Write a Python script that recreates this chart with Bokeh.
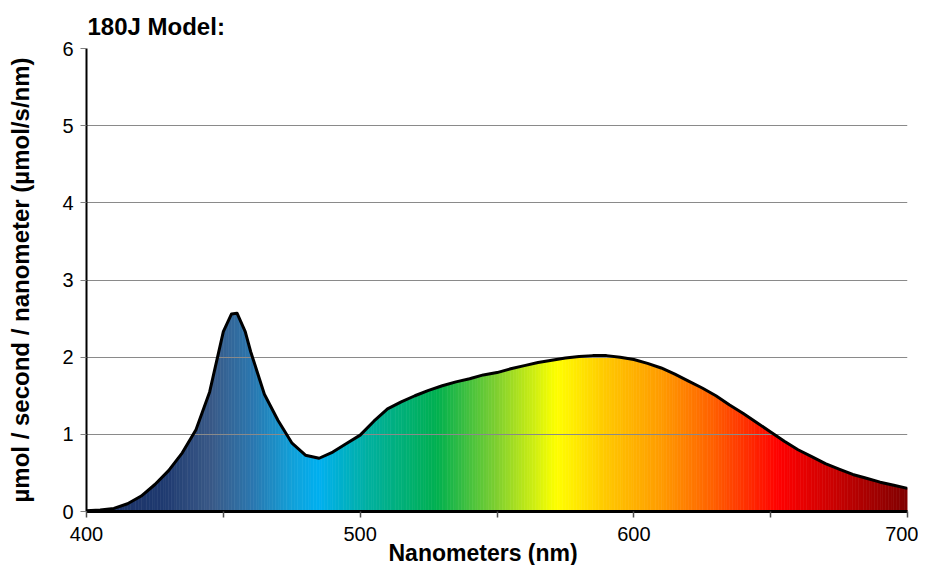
import numpy as np
from bokeh.plotting import figure
from bokeh.models import Range1d, FixedTicker, Title
from bokeh.embed import file_html
from bokeh.resources import INLINE

# ---- data ----
wavelength = [400, 405, 410, 415, 420, 425, 430, 435, 440, 445, 450, 453, 455, 458,
              460, 465, 470, 475, 480, 485, 490, 495, 500, 505, 510, 515, 520, 525,
              530, 535, 540, 545, 550, 555, 560, 565, 570, 575, 580, 585, 590, 595,
              600, 605, 610, 615, 620, 625, 630, 635, 640, 645, 650, 655, 660, 665,
              670, 675, 680, 685, 690, 695, 700]
photon_flux = [0.01, 0.02, 0.04, 0.10, 0.20, 0.35, 0.53, 0.76, 1.06, 1.55, 2.33, 2.56, 2.57, 2.33,
               2.07, 1.52, 1.18, 0.89, 0.73, 0.69, 0.77, 0.88, 0.99, 1.17, 1.33, 1.42, 1.50, 1.57,
               1.63, 1.68, 1.72, 1.77, 1.80, 1.85, 1.89, 1.93, 1.96, 1.99, 2.01, 2.02, 2.02, 2.00,
               1.97, 1.92, 1.86, 1.78, 1.69, 1.60, 1.50, 1.38, 1.27, 1.15, 1.03, 0.91, 0.80, 0.71,
               0.62, 0.55, 0.48, 0.43, 0.38, 0.34, 0.30]

x_ticks = [400, 450, 500, 550, 600, 650, 700]
x_tick_labels = {400: "400", 450: "", 500: "500", 550: "", 600: "600", 650: "", 700: "700"}
y_ticks = [0, 1, 2, 3, 4, 5, 6]

color_stop_nm = [400, 428, 446, 461, 475, 485, 503, 528, 550, 568, 572, 590, 611, 629, 653, 671, 700]
color_stop_hex = ["#1b2f62", "#1f3a70", "#3a5a88", "#2a78b0", "#12a0d8", "#00b0f0", "#00b0a0",
                  "#00b050", "#80d030", "#e8f808", "#ffff00", "#ffc800", "#ff9900", "#ff6000",
                  "#ff0000", "#d00000", "#800000"]

title_text = "180J Model:"
x_label = "Nanometers (nm)"
y_label = "\u00b5mol / second / nanometer (\u00b5mol/s/nm)"

FONT = "Liberation Sans"

# ---- gradient strips under the curve ----
def hex_to_rgb(h):
    h = h.lstrip("#")
    return [int(h[i:i + 2], 16) for i in (0, 2, 4)]

stops_rgb = np.array([hex_to_rgb(c) for c in color_stop_hex], dtype=float)
edges = np.arange(wavelength[0], wavelength[-1] + 0.001, 1.0)
xs, ys, cols = [], [], []
for a, b in zip(edges[:-1], edges[1:]):
    ya = float(np.interp(a, wavelength, photon_flux))
    yb = float(np.interp(b, wavelength, photon_flux))
    m = 0.5 * (a + b)
    rgb = [int(round(np.interp(m, color_stop_nm, stops_rgb[:, k]))) for k in range(3)]
    xs.append([a, a, b, b])
    ys.append([0, ya, yb, 0])
    cols.append("#%02x%02x%02x" % tuple(rgb))

p = figure(width=918, height=565,
           x_range=Range1d(400, 700), y_range=Range1d(0, 6),
           output_backend="svg", toolbar_location=None,
           min_border_left=86, min_border_right=11,
           min_border_top=48, min_border_bottom=54)

fill = p.patches(xs, ys, fill_color=cols, line_color=cols, line_width=0.6)
fill.level = "image"
p.line(wavelength, photon_flux, line_color="black", line_width=3, line_join="round")

p.outline_line_color = None
p.background_fill_color = "white"

# title
p.title.text = title_text
p.title.text_font = FONT
p.title.text_font_size = "24px"
p.title.text_font_style = "bold"
p.title.text_color = "black"
p.title.align = "left"
p.title.offset = 1
p.title.standoff = 18

# x-axis label as a bottom title (shifted left like the reference)
xlab = Title(text=x_label, text_font=FONT, text_font_size="23px", text_font_style="bold",
             text_color="black", align="left", vertical_align="top", offset=302, standoff=-8)
p.add_layout(xlab, "below")

# grid
p.xgrid.visible = False
p.ygrid.ticker = FixedTicker(ticks=y_ticks)
p.ygrid.grid_line_color = "#8a8a8a"
p.ygrid.grid_line_width = 1
p.ygrid.level = "underlay"

# x axis
xa = p.xaxis[0]
xa.ticker = FixedTicker(ticks=x_ticks)
xa.major_label_overrides = x_tick_labels
xa.axis_line_color = "black"
xa.axis_line_width = 3
xa.major_tick_line_color = "#505050"
xa.major_tick_line_width = 1.5
xa.major_tick_out = 6
xa.major_tick_in = 0
xa.minor_tick_line_color = None
xa.major_label_text_font = FONT
xa.major_label_text_font_size = "20px"
xa.major_label_text_color = "black"
xa.major_label_standoff = 9

# y axis
ya_ = p.yaxis[0]
ya_.ticker = FixedTicker(ticks=y_ticks)
ya_.axis_line_color = "black"
ya_.axis_line_width = 2
ya_.major_tick_line_color = "#808080"
ya_.major_tick_out = 6
ya_.major_tick_in = 0
ya_.minor_tick_line_color = None
ya_.major_label_text_font = FONT
ya_.major_label_text_font_size = "20px"
ya_.major_label_text_color = "black"
ya_.major_label_standoff = 7
ya_.axis_label = y_label
ya_.axis_label_text_font = FONT
ya_.axis_label_text_font_size = "24px"
ya_.axis_label_text_font_style = "bold"
ya_.axis_label_text_color = "black"
ya_.axis_label_standoff = 25

open("out.html", "w").write(file_html(p, INLINE))
